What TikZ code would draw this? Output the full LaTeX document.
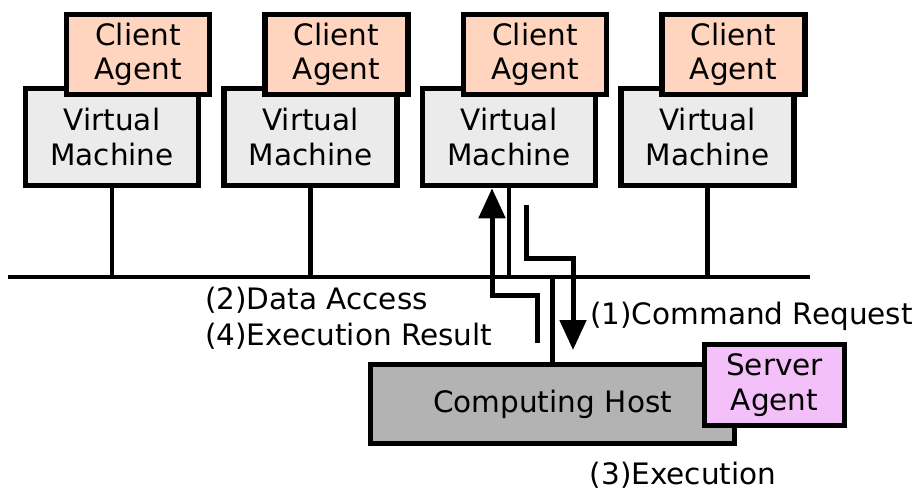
\documentclass[tikz,border=0pt]{standalone}
\usepackage{fontspec}
\setmainfont{DejaVu Sans}
\usetikzlibrary{arrows.meta}
\definecolor{vmfill}{HTML}{EBEBEB}
\definecolor{agentfill}{HTML}{FFD5C0}
\definecolor{hostfill}{HTML}{B3B3B3}
\definecolor{serverfill}{HTML}{F4C0FA}
\tikzset{
  box/.style={draw=black, line width=5.5pt, align=center, inner sep=0pt,
    font=\fontsize{29.5}{34.5}\selectfont},
  vmbox/.style={box, fill=vmfill, minimum width=173pt, minimum height=97pt},
  agentbox/.style={box, fill=agentfill, minimum width=143pt, minimum height=80pt},
  link/.style={line width=4.5pt},
  flow/.style={line width=5pt, -{Triangle[width=26pt,length=30pt]}},
  lbl/.style={font=\fontsize{29.5}{34}\selectfont, inner sep=0pt}
}
\begin{document}
\begin{tikzpicture}[x=1pt,y=-1pt]
\useasboundingbox (0,0) rectangle (920,493);

% network bus
\coordinate (busL) at (8,277);
\coordinate (busR) at (810,277);
\draw[link] (busL) -- (busR);

% virtual machines with their client agents
\foreach \i/\cx in {1/112, 2/310.5, 3/509, 4/707.5} {
  \node[vmbox] (vm\i) at (\cx,137) {Virtual\\Machine};
  \node[agentbox] (ag\i) at (\cx+26,54.5) {Client\\Agent};
  \draw[link] (vm\i.south) -- (vm\i.south |- busL);
}

% computing host and server agent
\node[box, fill=hostfill, minimum width=364pt, minimum height=79pt,
  text width=320pt] (host) at (552.5,404) {Computing Host};
\node[box, fill=serverfill, minimum width=140pt, minimum height=81pt] (srv)
  at (774.5,385) {Server\\Agent};
\draw[link] (host.north) -- (host.north |- busL);

% request and result flows
\coordinate (upS) at (537,343);
\coordinate (dnS) at (526,205);
\coordinate (dnE) at (573,350);
\draw[flow] (upS) -- (537,295) -- (492,295) -- (vm3.south -| 492,0);
\draw[flow] (dnS) -- (526,258) -- (573,258) -- (dnE);

% labels
\node[lbl, anchor=west] (l2) at (205,300) {(2)Data Access};
\node[lbl, anchor=west] (l4) at (205,336) {(4)Execution Result};
\node[lbl, anchor=west] (l1) at (590,316) {(1)Command Request};
\node[lbl] (l3) at (683,475) {(3)Execution};
\end{tikzpicture}
\end{document}
